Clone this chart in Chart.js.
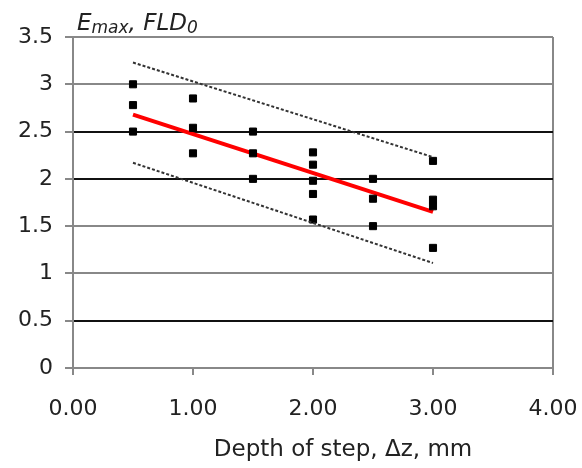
<!DOCTYPE html>
<html>
<head>
<meta charset="utf-8">
<script src="https://cdn.jsdelivr.net/npm/chart.js@4"></script>
<style>
  html, body { margin: 0; padding: 0; background: #fff; }
  #wrap { width: 582px; height: 468px; }
</style>
</head>
<body>
<div id="wrap"><canvas id="chart" width="582" height="468"></canvas></div>
<script>
// measured points: depth of step (mm) vs Emax / FLD0
const depthX = [0.5, 0.5, 0.5, 1, 1, 1, 1.5, 1.5, 1.5, 2, 2, 2, 2, 2, 2.5, 2.5, 2.5, 3, 3, 3, 3];
const emaxY = [3.0, 2.78, 2.5, 2.85, 2.54, 2.27, 2.5, 2.27, 2.0, 2.28, 2.15, 1.98, 1.84, 1.57, 2.0, 1.79, 1.5, 2.19, 1.78, 1.71, 1.27];

// fitted line and the two dotted bounds
const lineX = [0.5, 3];
const trendY = [2.68, 1.65];
const upperY = [3.23, 2.23];
const lowerY = [2.17, 1.11];

const xTickLabels = ["0.00", "1.00", "2.00", "3.00", "4.00"];
const yTickLabels = ["0", "0.5", "1", "1.5", "2", "2.5", "3", "3.5"];

const grayLines = [3, 1.5, 1, 3.5];
const toPts = (xs, ys) => xs.map((x, i) => ({ x, y: ys[i] }));

// axis titles drawn by hand so they sit where the original has them
const titlesPlugin = {
  id: "titles",
  afterDraw(chart) {
    const ctx = chart.ctx;
    const area = chart.chartArea;
    ctx.save();
    ctx.fillStyle = "#222";
    ctx.textBaseline = "alphabetic";
    ctx.textAlign = "center";
    ctx.font = "23px 'DejaVu Sans'";
    ctx.fillText("Depth of step, \u0394z, mm", 343, 456);

    ctx.textAlign = "left";
    let x = area.left + 4;
    const y = 30;
    const parts = [
      ["E", "italic 23px 'DejaVu Sans'", 0],
      ["max", "italic 17px 'DejaVu Sans'", 3],
      [", FLD", "italic 23px 'DejaVu Sans'", 0],
      ["0", "italic 17px 'DejaVu Sans'", 3]
    ];
    parts.forEach(([t, f, dy]) => {
      ctx.font = f;
      ctx.fillText(t, x, y + dy);
      x += ctx.measureText(t).width;
    });
    ctx.restore();
  }
};

new Chart(document.getElementById("chart"), {
  type: "scatter",
  data: {
    datasets: [
      {
        label: "upper",
        data: toPts(lineX, upperY),
        showLine: true,
        borderColor: "#333",
        borderWidth: 2,
        borderDash: [3, 2],
        pointRadius: 0
      },
      {
        label: "lower",
        data: toPts(lineX, lowerY),
        showLine: true,
        borderColor: "#333",
        borderWidth: 2,
        borderDash: [3, 2],
        pointRadius: 0
      },
      {
        label: "measured",
        data: toPts(depthX, emaxY),
        pointStyle: "rect",
        pointRadius: 5,
        borderWidth: 1,
        backgroundColor: "#000",
        borderColor: "#000"
      },
      {
        label: "trend",
        data: toPts(lineX, trendY),
        showLine: true,
        borderColor: "#ff0000",
        borderWidth: 4,
        pointRadius: 0
      }
    ]
  },
  options: {
    responsive: false,
    animation: false,
    layout: { padding: { top: 37, right: 29, left: 0, bottom: 0 } },
    plugins: {
      legend: { display: false },
      tooltip: { enabled: false }
    },
    scales: {
      x: {
        type: "linear",
        min: 0,
        max: 4,
        afterFit: s => { s.height = 100; s.paddingLeft = 0; s.paddingRight = 0; },
        ticks: {
          stepSize: 1,
          color: "#222",
          padding: 21,
          maxRotation: 0,
          font: { family: "'DejaVu Sans'", size: 22 },
          callback: (v) => xTickLabels[v]
        },
        grid: {
          color: c => (c.tick && c.tick.value === 4 ? "#888" : "rgba(0,0,0,0)"),
          lineWidth: 2,
          tickColor: "#888",
          tickLength: 7
        },
        border: { color: "#888", width: 2 }
      },
      y: {
        min: 0,
        max: 3.5,
        afterFit: s => { s.width = 73; },
        ticks: {
          stepSize: 0.5,
          color: "#222",
          padding: 12,
          font: { family: "'DejaVu Sans'", size: 22 },
          callback: (v) => yTickLabels[Math.round(v * 2)]
        },
        grid: {
          color: c => (c.tick && grayLines.includes(c.tick.value) ? "#888" : "#111"),
          lineWidth: 2,
          tickColor: "#888",
          tickLength: 8
        },
        border: { color: "#888", width: 2 }
      }
    }
  },
  plugins: [titlesPlugin]
});
</script>
</body>
</html>
